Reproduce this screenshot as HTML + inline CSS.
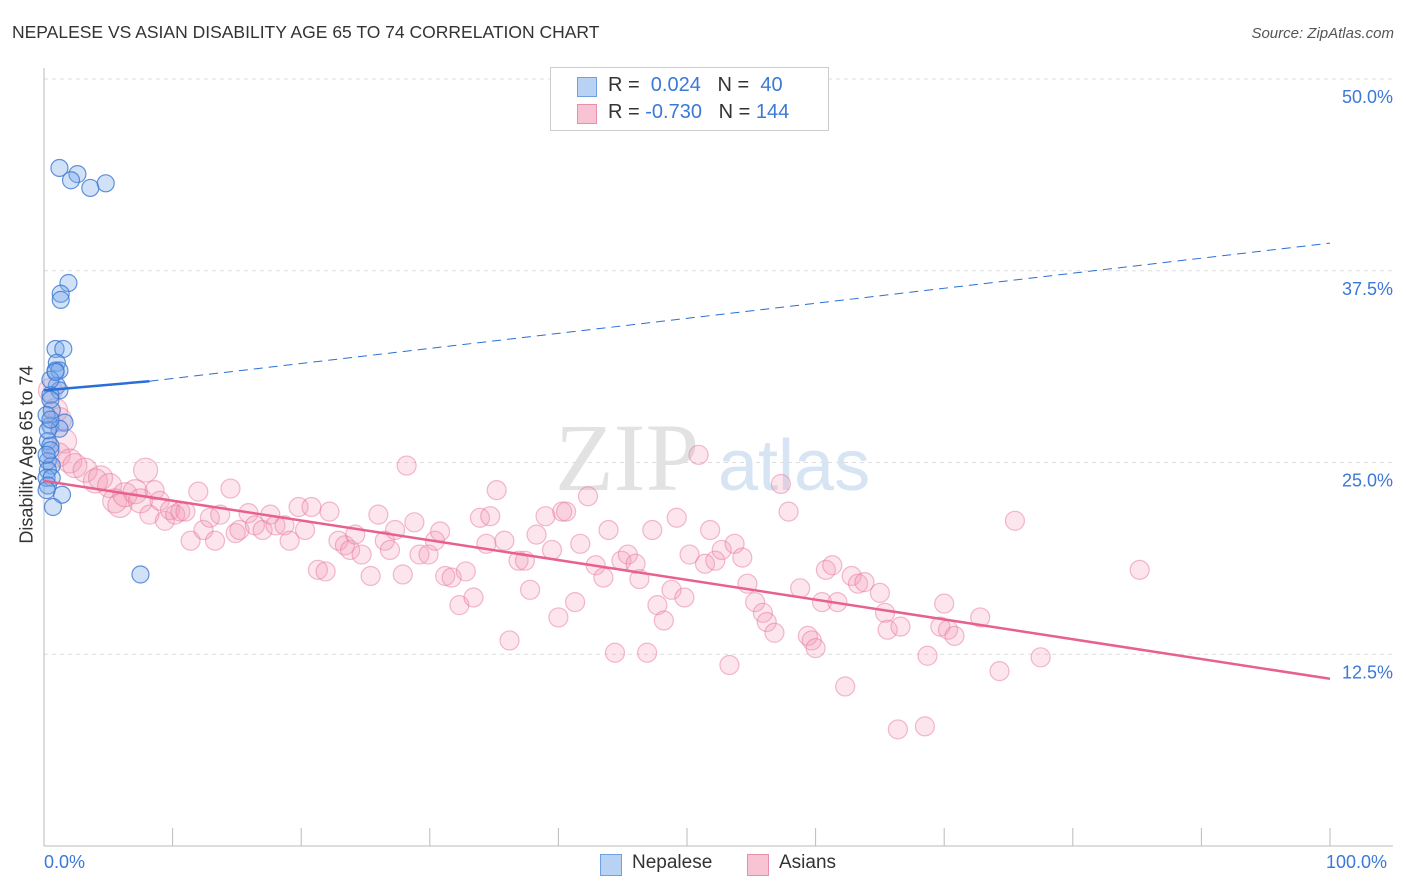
<!DOCTYPE html>
<html><head><meta charset="utf-8"><style>
body{margin:0;background:#fff;font-family:"Liberation Sans",sans-serif}
#wrap{position:relative;width:1406px;height:892px;overflow:hidden}
.t{position:absolute;white-space:nowrap}
</style></head><body><div id="wrap">
<div class="t" style="left:12px;top:22px;font-size:17.5px;color:#333">NEPALESE VS ASIAN DISABILITY AGE 65 TO 74 CORRELATION CHART</div>
<div class="t" style="right:12px;top:25px;font-size:15px;color:#555;font-style:italic">Source: ZipAtlas.com</div>
<svg id="svg" width="1406" height="892" style="position:absolute;left:0;top:0"></svg>
<div style="position:absolute;left:550px;top:67px;width:277px;height:62px;border:1px solid #ccc;background:#fff">
<div style="position:absolute;left:26px;top:9px;width:18px;height:18px;background:#b8d2f4;border:1px solid #6fa0e0"></div>
<div class="t" style="left:57px;top:6px;font-size:20px;color:#333">R = <span style="color:#3b78d8">&nbsp;0.024</span>&nbsp;&nbsp;&nbsp;N = &nbsp;<span style="color:#3b78d8">40</span></div>
<div style="position:absolute;left:26px;top:36px;width:18px;height:18px;background:#f8c4d4;border:1px solid #e890ab"></div>
<div class="t" style="left:57px;top:33px;font-size:20px;color:#333">R = <span style="color:#3b78d8">-0.730</span>&nbsp;&nbsp;&nbsp;N = <span style="color:#3b78d8">144</span></div>
</div>
<div style="position:absolute;left:600px;top:854px;width:20px;height:20px;background:#b8d2f4;border:1px solid #6fa0e0"></div>
<div class="t" style="left:632px;top:852px;font-size:19px;color:#333">Nepalese</div>
<div style="position:absolute;left:747px;top:854px;width:20px;height:20px;background:#f8c4d4;border:1px solid #e890ab"></div>
<div class="t" style="left:779px;top:852px;font-size:19px;color:#333">Asians</div>
<div class="t" style="left:44px;top:852px;font-size:18px;color:#3b78d8">0.0%</div>
<div class="t" style="left:1326px;top:852px;font-size:18px;color:#3b78d8">100.0%</div>
<div class="t" style="left:-70px;top:444px;width:194px;text-align:center;font-size:18px;color:#333;transform:rotate(-90deg)">Disability Age 65 to 74</div>
</div>
<script>
const yTicks=[12.5,25,37.5,50];
const yTickLabels=["12.5%","25.0%","37.5%","50.0%"];
const nepX=[1.2,2.6,2.1,3.6,4.8,1.9,1.3,1.3,0.9,1.5,1.0,0.9,1.2,1.0,1.2,0.5,0.6,0.5,1.6,1.2,0.3,0.5,0.3,0.6,0.3,0.2,0.6,0.3,1.4,0.7,7.5,0.5,0.2,0.3,0.5,0.2,0.5,0.9,0.5,0.2];
const nepY=[44.2,43.8,43.4,42.9,43.2,36.7,36.0,35.6,32.4,32.4,31.5,31.0,31.0,30.0,29.7,29.4,28.4,27.4,27.6,27.2,26.4,26.1,25.1,24.8,24.5,24.0,24.0,23.5,22.9,22.1,17.7,29.1,28.1,27.1,25.8,25.5,30.4,30.9,27.8,23.2];
const asX=[0.5,0.9,1.2,1.6,1.1,2.0,2.4,3.2,4.0,4.4,5.1,5.5,5.9,6.3,7.1,7.5,7.9,8.2,8.6,9.0,9.4,9.8,10.2,10.6,11.0,11.4,12.0,12.4,12.9,13.3,13.7,14.5,14.9,15.2,15.9,16.4,17.0,17.6,18.0,18.7,19.1,19.8,20.3,20.8,21.3,21.9,22.2,22.9,23.4,23.8,24.2,24.7,25.4,26.0,26.5,26.9,27.3,27.9,28.2,28.8,29.2,29.9,30.4,30.8,31.2,31.7,32.3,32.8,33.4,33.9,34.4,34.7,35.2,35.8,36.2,36.9,37.4,37.8,38.3,39.0,39.5,40.0,40.3,40.6,41.3,41.7,42.3,42.9,43.5,43.9,44.4,44.9,45.4,46.0,46.3,46.9,47.3,47.7,48.2,48.8,49.2,49.8,50.2,50.9,51.4,51.8,52.2,52.7,53.3,53.7,54.3,54.7,55.3,55.9,56.2,56.8,57.3,57.9,58.8,59.4,59.7,60.0,60.5,60.8,61.3,61.7,62.3,62.8,63.3,63.8,65.0,65.4,65.6,66.6,66.4,68.7,68.5,69.7,70.0,70.3,70.8,72.8,74.3,75.5,77.5,85.2];
const asY=[29.7,28.4,27.8,26.4,25.5,25.1,24.8,24.5,23.8,24.0,23.5,22.5,22.2,22.9,23.1,22.5,24.5,21.6,23.2,22.5,21.2,21.9,21.6,21.8,21.8,19.9,23.1,20.6,21.4,19.9,21.6,23.3,20.4,20.6,21.7,20.9,20.6,21.6,20.9,20.9,19.9,22.1,20.6,22.1,18.0,17.9,21.8,19.9,19.6,19.3,20.3,19.0,17.6,21.6,19.9,19.3,20.6,17.7,24.8,21.1,19.0,19.0,19.9,20.5,17.6,17.5,15.7,17.9,16.2,21.4,19.7,21.5,23.2,19.9,13.4,18.6,18.6,16.7,20.3,21.5,19.3,14.9,21.8,21.8,15.9,19.7,22.8,18.3,17.5,20.6,12.6,18.6,19.0,18.4,17.4,12.6,20.6,15.7,14.7,16.7,21.4,16.2,19.0,25.5,18.4,20.6,18.6,19.3,11.8,19.7,18.8,17.1,15.9,15.2,14.6,13.9,23.6,21.8,16.8,13.7,13.4,12.9,15.9,18.0,18.3,15.9,10.4,17.6,17.1,17.2,16.5,15.2,14.1,14.3,7.6,12.4,7.8,14.3,15.8,14.1,13.7,14.9,11.4,21.2,12.3,18.0];
const nepTrend=[[0,29.7],[8.2,30.3],[100,39.3]];
const asTrend=[[0,23.8],[100,10.9]];
const L=44,R=1330,B=846,T=79;
const xs=v=>L+(R-L)*v/100;
const ys=v=>B-(B-T)*v/50;
const svg=document.getElementById('svg');const NS='http://www.w3.org/2000/svg';
function mk(tag,at,parent){const e=document.createElementNS(NS,tag);for(const k in at)e.setAttribute(k,at[k]);(parent||svg).appendChild(e);return e;}
yTicks.forEach((v,i)=>{
const g=mk('line',{x1:L,x2:1393,y1:ys(v),y2:ys(v),stroke:'#ddd','stroke-dasharray':'4,4'});


const t=mk('text',{x:1393,y:ys(v)+24,'text-anchor':'end','font-size':18,fill:'#3b78d8','font-family':'Liberation Sans, sans-serif'});
t.textContent=yTickLabels[i];


});
const w1=mk('text',{x:555,y:490,'font-size':96,fill:'#e2e2e2','font-family':'Liberation Serif, serif'});w1.textContent='ZIP';


const w2=mk('text',{x:718,y:490,'font-size':72,fill:'#d6e4f4','font-family':'Liberation Sans, sans-serif'});w2.textContent='atlas';


const ax=mk('line',{x1:L,x2:L,y1:68,y2:B,stroke:'#bbb'});


const bx=mk('line',{x1:L,x2:1393,y1:B,y2:B,stroke:'#bbb'});


for(let i=0;i<=10;i++){const tk=mk('line',{x1:xs(i*10),x2:xs(i*10),y1:B,y2:B-18,stroke:'#bbb'});

}
asX.forEach((x,i)=>{const c=mk('circle',{cx:xs(x),cy:ys(asY[i]),r:x<8?12:9.5,fill:'rgba(244,150,180,0.25)',stroke:'rgba(232,120,155,0.5)','stroke-width':1.2});

});
nepX.forEach((x,i)=>{const c=mk('circle',{cx:xs(x),cy:ys(nepY[i]),r:8.5,fill:'rgba(120,170,235,0.35)',stroke:'rgba(60,120,210,0.8)','stroke-width':1.2});

});
const l1=mk('line',{x1:xs(nepTrend[0][0]),y1:ys(nepTrend[0][1]),x2:xs(nepTrend[1][0]),y2:ys(nepTrend[1][1]),stroke:'#2a6fd6','stroke-width':2.5});


const l2=mk('line',{x1:xs(nepTrend[1][0]),y1:ys(nepTrend[1][1]),x2:xs(nepTrend[2][0]),y2:ys(nepTrend[2][1]),stroke:'#2a6fd6','stroke-width':1,'stroke-dasharray':'9,6'});


const l3=mk('line',{x1:xs(asTrend[0][0]),y1:ys(asTrend[0][1]),x2:xs(asTrend[1][0]),y2:ys(asTrend[1][1]),stroke:'#e8608e','stroke-width':2.5});


</script></body></html>
